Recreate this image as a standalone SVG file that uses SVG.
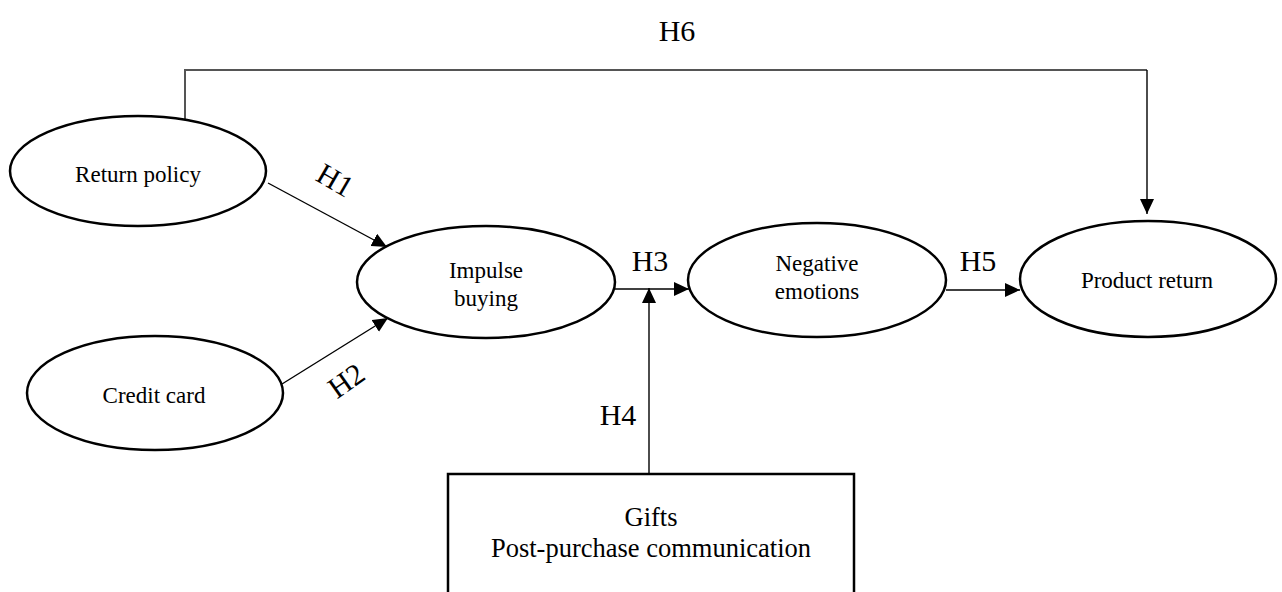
<svg xmlns="http://www.w3.org/2000/svg" width="1282" height="592" viewBox="0 0 1282 592">
<style>
.node{fill:#fff;stroke:#000;stroke-width:2.5}
.t{font-family:"Liberation Serif","Times New Roman",serif;font-size:23px;fill:#000;text-anchor:middle}
.h{font-family:"Liberation Serif","Times New Roman",serif;font-size:30px;fill:#000;text-anchor:middle}
.bt{font-family:"Liberation Serif","Times New Roman",serif;font-size:26.5px;fill:#000;text-anchor:middle}
.c{fill:none;stroke:#000;stroke-width:1.4}
</style>
<defs>
<marker id="arr" viewBox="0 0 15 14" refX="15" refY="7" markerWidth="15" markerHeight="14" markerUnits="userSpaceOnUse" orient="auto">
<path d="M0,0 L15,7 L0,14 Z" fill="#000"/>
</marker>
</defs>
<rect width="1282" height="592" fill="#fff"/>
<g id="connectors">
<path d="M185,119 V70 H1147" fill="none" stroke="#555" stroke-width="2"/>
<path class="c" d="M1147,70 V214" marker-end="url(#arr)"/>
<path class="c" d="M268,183 L387,247" marker-end="url(#arr)"/>
<path class="c" d="M282,384 L388,318" marker-end="url(#arr)"/>
<path class="c" d="M615,289 L689,289" marker-end="url(#arr)"/>
<path class="c" d="M649,474 V288" marker-end="url(#arr)"/>
<path class="c" d="M946,290 L1020,290" marker-end="url(#arr)"/>
<text class="h" x="677" y="41">H6</text>
<text class="h" transform="translate(330,189) rotate(30)">H1</text>
<text class="h" transform="translate(352,389) rotate(-35)">H2</text>
<text class="h" x="650" y="271">H3</text>
<text class="h" x="618" y="425">H4</text>
<text class="h" x="978" y="271">H5</text>
</g>
<g id="return-policy">
<ellipse class="node" cx="138" cy="171" rx="128" ry="55"/>
<text class="t" x="138" y="182">Return policy</text>
</g>
<g id="credit-card">
<ellipse class="node" cx="155" cy="393" rx="128" ry="57"/>
<text class="t" x="154" y="403">Credit card</text>
</g>
<g id="impulse-buying">
<ellipse class="node" cx="486" cy="282" rx="129" ry="56"/>
<text class="t" x="486" y="278">Impulse</text>
<text class="t" x="486" y="306">buying</text>
</g>
<g id="negative-emotions">
<ellipse class="node" cx="817" cy="280" rx="129" ry="57"/>
<text class="t" x="817" y="271">Negative</text>
<text class="t" x="817" y="299">emotions</text>
</g>
<g id="product-return">
<ellipse class="node" cx="1148" cy="279" rx="128" ry="58"/>
<text class="t" x="1147" y="288">Product return</text>
</g>
<g id="gifts-box">
<rect class="node" x="448" y="474" width="406" height="130"/>
<text class="bt" x="651" y="526">Gifts</text>
<text class="bt" x="651" y="557">Post-purchase communication</text>
</g>
</svg>
